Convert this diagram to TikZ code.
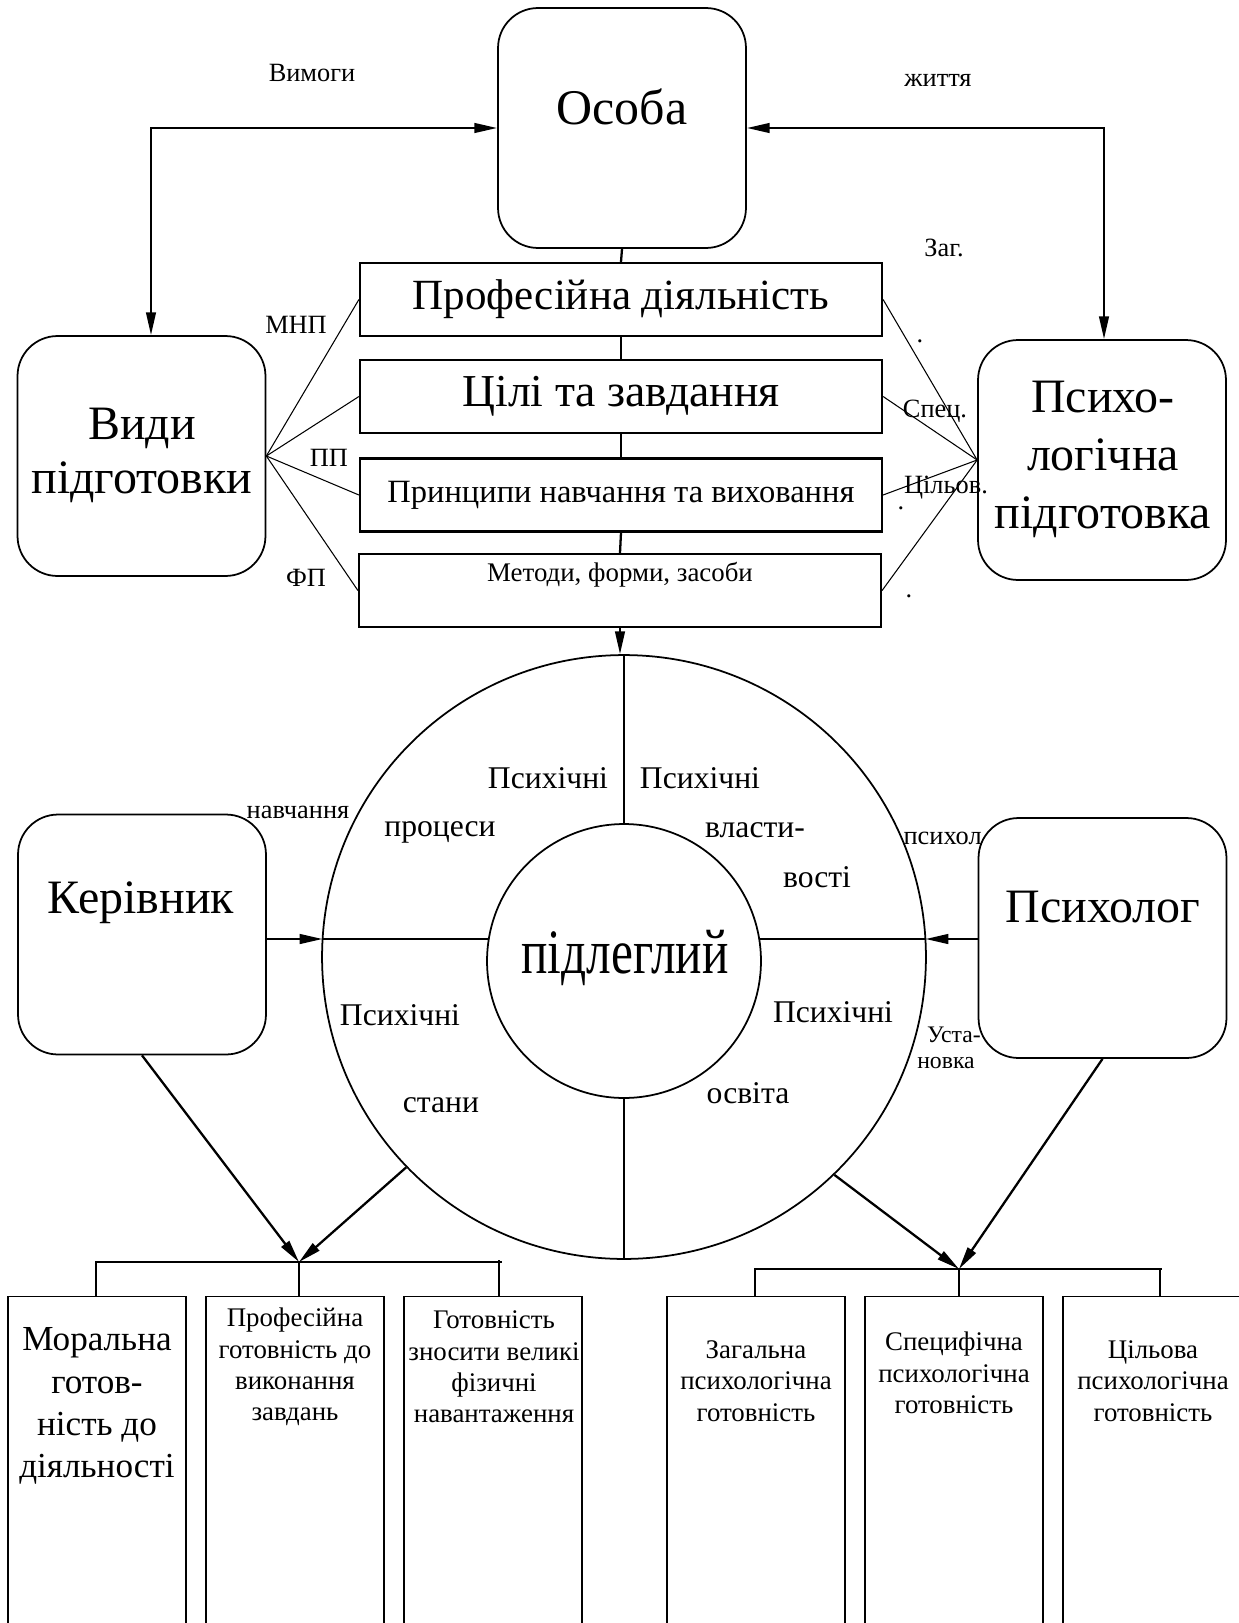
\documentclass[tikz,border=0pt]{standalone}
\usepackage{fontspec}
\usepackage{graphicx}
\setmainfont{Liberation Serif}
\usetikzlibrary{arrows.meta,calc}
\newcommand{\myfs}[2]{\fontsize{#1}{#2}\selectfont}
\begin{document}
\begin{tikzpicture}[x=0.02cm,y=-0.02cm,
  rbox/.style={draw, line width=1pt, rounded corners=0.8cm, minimum width=4.96cm, minimum height=4.8cm, inner sep=0},
  mbox/.style={draw, line width=1.3pt, minimum width=10.44cm, minimum height=1.46cm, inner sep=0},
  bbox/.style={draw, line width=0.8pt, minimum width=3.56cm, minimum height=7cm, inner sep=0, anchor=north},
  fanline/.style={line width=0.6pt},
  thinline/.style={line width=0.7pt},
  conn/.style={line width=1.3pt},
  arr/.style={line width=1.3pt, -{Triangle[length=13pt,width=5.5pt]}},
  arrtwo/.style={line width=1.3pt, {Triangle[length=13pt,width=5.5pt]}-{Triangle[length=13pt,width=5.5pt]}},
  lbl/.style={inner sep=0, font=\myfs{15}{18}},
  txt/.style={inner sep=0, align=center},
  ctxt/.style={inner sep=0, font=\myfs{18}{21}},
]
\useasboundingbox (0,0) rectangle (1239,1623);
\fill[white] (0,0) rectangle (1239,1623);
\clip (0,0) rectangle (1239,1623);

% top rounded boxes
\node[rbox] (osoba) at (622,128) {};
\node[txt, font=\myfs{28.4}{32}] (osobaT) at (622,107) {Особа};
\node[rbox] (vidy) at (141.5,456) {};
\node[txt, font=\myfs{27.3}{30.7}] (vidyT) at (142,455) {Види\\підготовки};
\node[rbox] (psych) at (1102,460) {};
\node[txt, font=\myfs{27.3}{33}] (psychT) at (1103,459) {Психо-\\логічна\\підготовка};

% middle rectangles
\node[mbox, font=\myfs{24.5}{28}] (m1) at (621,299.5) {Професійна діяльність};
\node[mbox, font=\myfs{26}{30}] (m2) at (621,396.5) {Цілі та завдання};
\node[mbox, font=\myfs{18.5}{22}] (m3) at (621,495) {Принципи навчання та виховання};
\node[mbox] (m4) at (620,590.5) {};
\node[txt, font=\myfs{15.3}{18}] (m4T) at (620,575) {Методи, форми, засоби};

\draw[conn] (osoba.south) -- (m1.north);
\draw[conn] (m1.south) -- (m2.north);
\draw[conn] (m2.south) -- (m3.north);
\draw[conn] (m3.south) -- (m4.north);

% top arrows
\coordinate (cornerL) at (151,128);
\coordinate (cornerR) at (1104,128);
\draw[arrtwo] (osoba.west) -- (cornerL) -- (cornerL |- vidy.north);
\draw[arrtwo] (osoba.east) -- (cornerR) -- (cornerR |- psych.north);

% fan lines
\foreach \m in {m1,m2,m3,m4}{
  \draw[fanline] (vidy.east) -- (\m.west);
  \draw[fanline] (psych.west) -- (\m.east);
}

% labels
\node[lbl] (vymogy) at (312,73) {Вимоги};
\node[lbl] (zhyttia) at (938,80) {життя};
\node[lbl] (zag) at (944,248) {Заг.};
\node[lbl] (spec) at (935,411) {Спец.};
\node[lbl] (cil) at (946,488) {Цільов.};
\node[lbl] (mnp) at (296,325) {МНП};
\node[lbl] (pp) at (329,458) {ПП};
\node[lbl] (fp) at (306,578) {ФП};
\node[lbl] (d1) at (920,341) {.};
\node[lbl] (d2) at (901,508) {.};
\node[lbl] (d3) at (909,596) {.};

% circle
\node[draw, circle, line width=1pt, minimum size=12.08cm, inner sep=0] (outer) at (624,957) {};
\node[draw, circle, line width=1pt, minimum size=5.48cm, inner sep=0] (inner) at (624,961) {};
\node[inner sep=0] (sub) at (625,958) {\scalebox{0.78}[1]{\myfs{36}{40}підлеглий}};
\draw[arr] (m4.south) -- (m4.south |- outer.north);

\coordinate (oL) at (322.5,939);
\coordinate (iL) at (489,939);
\coordinate (iR) at (759,939);
\coordinate (oR) at (925.5,939);
\draw[thinline] (outer.north) -- (inner.north);
\draw[thinline] (inner.south) -- (outer.south);
\draw[thinline] (oL) -- (iL);
\draw[thinline] (iR) -- (oR);

\node[ctxt] (c1) at (548,778) {Психічні};
\node[ctxt] (c2) at (440,832) {процеси};
\node[ctxt] (c3) at (700,778) {Психічні};
\node[ctxt] (c4) at (755,830) {власти-};
\node[ctxt] (c5) at (817,877) {вості};
\node[ctxt] (c6) at (400,1015) {Психічні};
\node[ctxt] (c7) at (441,1105) {стани};
\node[ctxt] (c8) at (833,1012) {Психічні};
\node[ctxt] (c9) at (748,1093) {освіта};

% side boxes
\node[lbl] (navch) at (298,812) {навчання};
\node[lbl, anchor=east] (psyhol) at (982,838) {психол};
\node[rbox] (ker) at (142,934.5) {};
\node[txt, font=\myfs{27.3}{31}] (kerT) at (141,903) {Керівник};
\node[rbox] (psy) at (1102.5,938) {};
\node[txt, font=\myfs{27.3}{31}] (psyT) at (1103,907) {Психолог};
\node[lbl, font=\myfs{13.5}{16}] (ust1) at (954,1035) {Уста-};
\node[lbl, font=\myfs{13.5}{16}] (ust2) at (946,1063) {новка};

\draw[arr] (ker.east |- oL) -- (oL);
\draw[arr] (psy.west |- oR) -- (oR);

% bottom boxes
\node[bbox] (b1) at (97,1296) {};
\node[bbox] (b2) at (295,1296) {};
\node[bbox] (b3) at (493,1296) {};
\node[bbox] (b4) at (756,1296) {};
\node[bbox] (b5) at (954,1296) {};
\node[bbox] (b6) at (1152,1296) {};

\node[txt, font=\myfs{20}{24}] (b1T) at (97,1406) {Моральна\\готов-\\ність до\\діяльності};
\node[txt, font=\myfs{15.3}{17.8}] (b2T) at (295,1367) {Професійна\\готовність до\\виконання\\завдань};
\node[txt, font=\myfs{15.3}{17.8}] (b3T) at (494,1367) {Готовність\\зносити великі\\фізичні\\навантаження};
\node[txt, font=\myfs{15.3}{17.8}] (b4T) at (756,1381) {Загальна\\психологічна\\готовність};
\node[txt, font=\myfs{15.3}{17.8}] (b5T) at (954,1373) {Специфічна\\психологічна\\готовність};
\node[txt, font=\myfs{15.3}{17.8}] (b6T) at (1153,1381) {Цільова\\психологічна\\готовність};

% hubs
\coordinate (hubL) at (299,1262);
\coordinate (hubR) at (959,1269);
\draw[arr] (ker.south) -- (hubL);
\draw[arr] (outer.-136) -- (hubL);
\draw[arr] (psy.south) -- (hubR);
\draw[arr] (outer.-46) -- (hubR);

\coordinate (barL1) at (95,1262);
\coordinate (barL2) at (502,1262);
\coordinate (vL1) at (96,1262);
\coordinate (vL3) at (499,1260);
\draw[thinline] (barL1) -- (barL2);
\draw[thinline] (vL1) -- (vL1 |- b1.north);
\draw[thinline] (hubL) -- (hubL |- b2.north);
\draw[thinline] (vL3) -- (vL3 |- b3.north);

\coordinate (barR1) at (754,1269);
\coordinate (barR2) at (1162,1269);
\coordinate (vR1) at (755,1269);
\coordinate (vR3) at (1160,1269);
\draw[thinline] (barR1) -- (barR2);
\draw[thinline] (vR1) -- (vR1 |- b4.north);
\draw[thinline] (hubR) -- (hubR |- b5.north);
\draw[thinline] (vR3) -- (vR3 |- b6.north);
\end{tikzpicture}
\end{document}
